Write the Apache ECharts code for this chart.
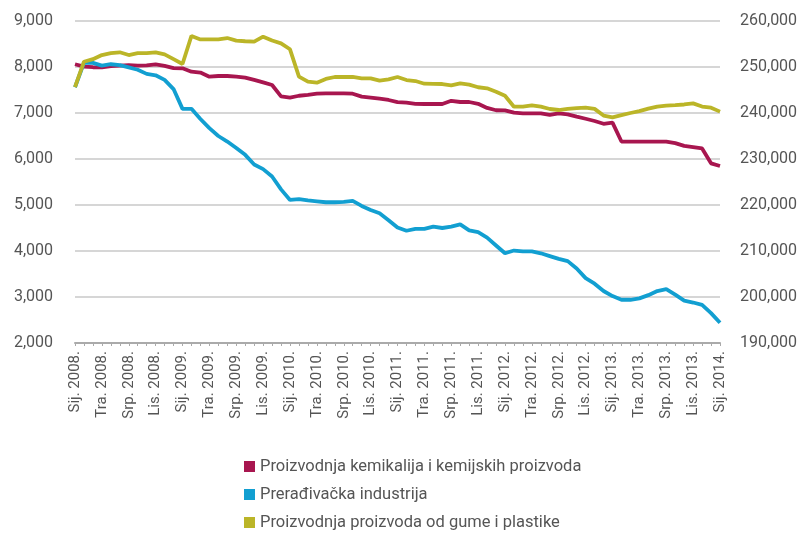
<!DOCTYPE html>
<html>
<head>
<meta charset="utf-8">
<script src="https://cdn.jsdelivr.net/npm/echarts@6/dist/echarts.min.js"></script>
<style>
  html, body { margin: 0; padding: 0; background: #fff; }
  #chart { width: 805px; height: 534px; }
</style>
</head>
<body>
<div id="chart"></div>
<script>
// mjeseci sij. 2008 - sij. 2014
var monthNames = ['Sij.', 'Velj.', 'Ožu.', 'Tra.', 'Svi.', 'Lip.', 'Srp.', 'Kol.', 'Ruj.', 'Lis.', 'Stu.', 'Pro.'];
var months = [];
for (var y = 2008; y <= 2014; y++) {
    for (var m = 0; m < 12; m++) {
        months.push(monthNames[m] + ' ' + y + '.');
        if (y == 2014) break;
    }
}

var kemikalije = [8060, 8010, 7995, 7990, 8020, 8030, 8043, 8030, 8035, 8059, 8025, 7975,
    7971, 7898, 7880, 7790, 7804, 7804, 7790, 7768, 7720, 7667, 7609, 7360,
    7335, 7375, 7395, 7420, 7428, 7428, 7425, 7420, 7355, 7335, 7310, 7283,
    7235, 7225, 7200, 7196, 7196, 7196, 7265, 7239, 7239, 7200, 7110, 7060,
    7058, 7007, 6993, 6993, 6993, 6957, 6990, 6970, 6920, 6875, 6826, 6765,
    6790, 6380, 6377, 6377, 6377, 6377, 6377, 6345, 6285, 6260, 6230, 5906,
    5848];

var preradivacka = [245600, 250900, 250900, 250300, 250600, 250400, 249900, 249400, 248500, 248200, 247200, 245200,
    240900, 240900, 238700, 236700, 235000, 233800, 232400, 230900, 228800, 227800, 226200, 223400,
    221100, 221300, 221000, 220800, 220600, 220600, 220700, 220900, 219800, 218900, 218200, 216700,
    215100, 214400, 214800, 214800, 215300, 215000, 215300, 215800, 214500, 214100, 212900, 211200,
    209500, 210100, 209900, 209900, 209500, 208900, 208300, 207800, 206200, 204100, 202900, 201300,
    200200, 199400, 199400, 199700, 200400, 201300, 201700, 200500, 199200, 198800, 198300, 196500,
    194400];

var gumaPlastika = [7560, 8115, 8170, 8260, 8300, 8320, 8260, 8300, 8300, 8320, 8275, 8170,
    8065, 8675, 8600, 8600, 8600, 8630, 8575, 8560, 8550, 8660, 8575, 8515,
    8385, 7790, 7680, 7660, 7740, 7783, 7783, 7783, 7754, 7754, 7702, 7732,
    7783, 7717, 7695, 7637, 7635, 7630, 7602, 7646, 7616, 7560, 7537, 7463,
    7376, 7137, 7140, 7167, 7137, 7087, 7065, 7090, 7105, 7116, 7090, 6945,
    6906, 6955, 7000, 7040, 7094, 7140, 7159, 7170, 7185, 7210, 7140, 7116,
    7030];

var labelFont = 'Roboto, "Liberation Sans", sans-serif';

var chart = echarts.init(document.getElementById('chart'));
var option = {
    animation: false,
    grid: { left: 75, right: 85, top: 21, bottom: 191 },
    legend: {
        orient: 'vertical',
        left: 244,
        top: 458,
        padding: 0,
        itemWidth: 11,
        itemHeight: 11,
        itemGap: 11,
        icon: 'rect',
        textStyle: { color: '#555', fontSize: 16.5, fontFamily: labelFont },
        data: ['Proizvodnja kemikalija i kemijskih proizvoda', 'Prerađivačka industrija', 'Proizvodnja proizvoda od gume i plastike']
    },
    xAxis: {
        type: 'category',
        data: months,
        boundaryGap: false,
        axisLine: { lineStyle: { color: '#aaa', width: 2 } },
        axisTick: { show: true, interval: 0, length: 3, lineStyle: { color: '#aaa' } },
        axisLabel: {
            interval: 2,
            rotate: 90,
            color: '#555',
            fontSize: 15,
            fontFamily: labelFont,
            margin: 8
        },
        splitLine: { show: false }
    },
    yAxis: [{
        type: 'value',
        min: 2000,
        max: 9000,
        interval: 1000,
        axisLine: { show: false },
        axisTick: { show: false },
        axisLabel: { color: '#555', fontSize: 16, fontFamily: labelFont, margin: 22 },
        splitLine: { lineStyle: { color: '#c8c8c8', width: 1.5 } }
    }, {
        type: 'value',
        min: 190000,
        max: 260000,
        interval: 10000,
        position: 'right',
        axisLine: { show: false },
        axisTick: { show: false },
        axisLabel: { color: '#555', fontSize: 16, fontFamily: labelFont, margin: 20 },
        splitLine: { show: false }
    }],
    series: [{
        name: 'Proizvodnja kemikalija i kemijskih proizvoda',
        type: 'line',
        data: kemikalije,
        yAxisIndex: 0,
        showSymbol: false,
        color: '#a8164f',
        lineStyle: { width: 3.8 }
    }, {
        name: 'Prerađivačka industrija',
        type: 'line',
        data: preradivacka,
        yAxisIndex: 1,
        showSymbol: false,
        color: '#129fd1',
        lineStyle: { width: 3.8 }
    }, {
        name: 'Proizvodnja proizvoda od gume i plastike',
        type: 'line',
        data: gumaPlastika,
        yAxisIndex: 0,
        showSymbol: false,
        color: '#bbb528',
        lineStyle: { width: 3.8 }
    }]
};
chart.setOption(option);
</script>
</body>
</html>
